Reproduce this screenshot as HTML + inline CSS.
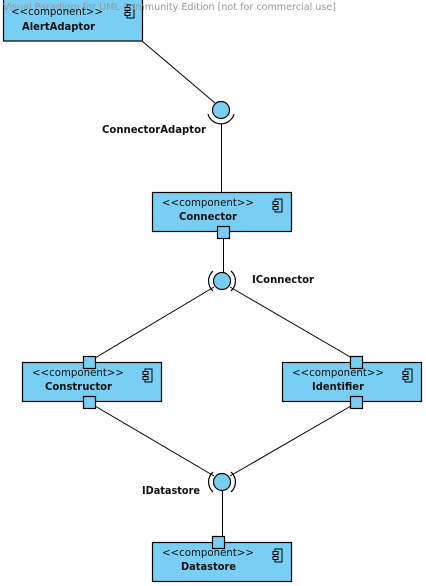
<!DOCTYPE html>
<html><head><meta charset="utf-8"><style>body{margin:0;background:#fff}svg{display:block}text{font-family:"DejaVu Sans","Liberation Sans",sans-serif}</style></head><body>
<svg width="426" height="586" viewBox="0 0 426 586" xmlns="http://www.w3.org/2000/svg">
<defs>
<g id="ic"><rect x="2" y="0" width="7" height="13" fill="#79cff3" stroke="#000" stroke-width="1"/><rect x="0" y="2.5" width="5" height="3" fill="#79cff3" stroke="#000"/><rect x="0" y="7.5" width="5" height="3" fill="#79cff3" stroke="#000"/></g>
</defs>
<g stroke="#000" stroke-width="1" fill="none">
<line x1="142" y1="41" x2="215" y2="103"/>
<line x1="221.5" y1="124" x2="221.5" y2="192"/>
<line x1="223.5" y1="238" x2="223.5" y2="272"/>
<line x1="214" y1="287" x2="95" y2="358"/>
<line x1="230" y1="287" x2="352" y2="358"/>
<line x1="95" y1="406" x2="214" y2="476"/>
<line x1="351" y1="406" x2="230" y2="476"/>
<line x1="222.5" y1="490" x2="222.5" y2="537"/>
</g>
<g fill="#79cff3" stroke="#000" stroke-width="1.2">
<rect x="3.5" y="-1" width="139" height="42"/>
<rect x="152.5" y="192.5" width="139" height="39"/>
<rect x="22.5" y="362.5" width="139" height="39"/>
<rect x="282.5" y="362.5" width="139" height="39"/>
<rect x="152.5" y="542.5" width="139" height="39"/>
<rect x="217.5" y="226.5" width="12" height="12"/>
<rect x="83.5" y="356.5" width="12" height="12"/>
<rect x="83.5" y="396.5" width="12" height="12"/>
<rect x="350.5" y="356.5" width="12" height="12"/>
<rect x="350.5" y="396.5" width="12" height="12"/>
<rect x="212.5" y="536.5" width="12" height="12"/>
<circle cx="221" cy="110" r="8.5"/>
<circle cx="222" cy="281" r="8.5"/>
<circle cx="222" cy="482" r="8.5"/>
</g>
<g fill="none" stroke="#000" stroke-width="1.2">
<path d="M208 114 A13.5 13.5 0 0 0 234 114"/>
<path d="M213 271 A13.5 13.5 0 0 0 213 291"/><path d="M231 271 A13.5 13.5 0 0 1 231 291"/>
<path d="M213 472 A13.5 13.5 0 0 0 213 492"/><path d="M231 472 A13.5 13.5 0 0 1 231 492"/>
</g>
<use href="#ic" x="125" y="5"/>
<use href="#ic" x="273" y="199"/>
<use href="#ic" x="143" y="369"/>
<use href="#ic" x="403" y="369"/>
<use href="#ic" x="273" y="549"/>
<text x="3" y="10" font-size="10" fill="#999" textLength="333" lengthAdjust="spacingAndGlyphs">Visual Paradigm for UML Community Edition [not for commercial use]</text>
<g font-size="11" fill="#111">
<text x="11" y="15" textLength="92" lengthAdjust="spacingAndGlyphs">&lt;&lt;component&gt;&gt;</text>
<text x="162" y="206" textLength="92" lengthAdjust="spacingAndGlyphs">&lt;&lt;component&gt;&gt;</text>
<text x="32" y="376" textLength="92" lengthAdjust="spacingAndGlyphs">&lt;&lt;component&gt;&gt;</text>
<text x="292" y="376" textLength="92" lengthAdjust="spacingAndGlyphs">&lt;&lt;component&gt;&gt;</text>
<text x="162" y="556" textLength="92" lengthAdjust="spacingAndGlyphs">&lt;&lt;component&gt;&gt;</text>
</g>
<g font-size="11" font-weight="bold" fill="#111">
<text x="22" y="30" textLength="73" lengthAdjust="spacingAndGlyphs">AlertAdaptor</text>
<text x="179" y="220" textLength="58" lengthAdjust="spacingAndGlyphs">Connector</text>
<text x="45" y="390" textLength="67" lengthAdjust="spacingAndGlyphs">Constructor</text>
<text x="312" y="390" textLength="52" lengthAdjust="spacingAndGlyphs">Identifier</text>
<text x="181" y="570" textLength="55" lengthAdjust="spacingAndGlyphs">Datastore</text>
<text x="102" y="133" textLength="104" lengthAdjust="spacingAndGlyphs">ConnectorAdaptor</text>
<text x="252" y="283" textLength="62" lengthAdjust="spacingAndGlyphs">IConnector</text>
<text x="142" y="494" textLength="58" lengthAdjust="spacingAndGlyphs">IDatastore</text>
</g>
</svg>
</body></html>
